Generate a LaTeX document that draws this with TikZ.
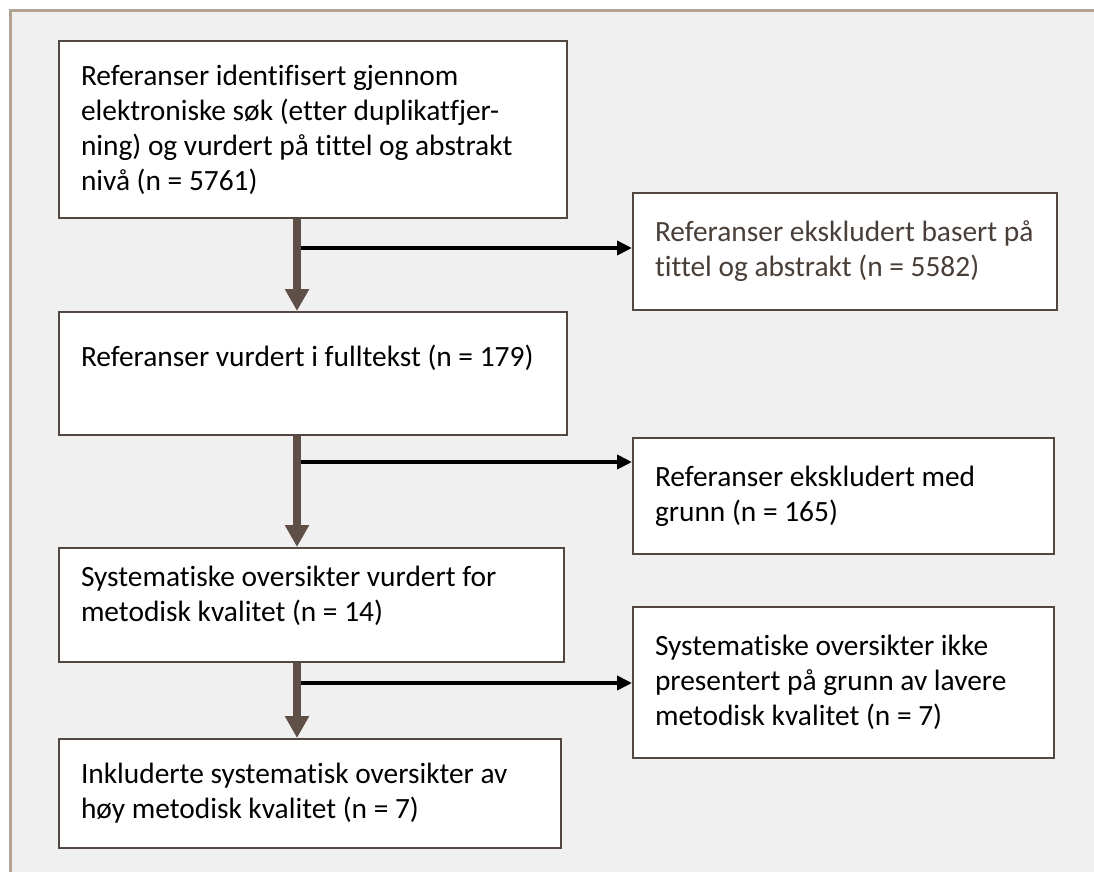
\documentclass[tikz,border=0pt]{standalone}
\usepackage{fontspec}
\setmainfont{Carlito}[Ligatures=NoCommon]
\usetikzlibrary{positioning, arrows.meta}

\definecolor{framebg}{HTML}{F0F0F0}
\definecolor{frameline}{HTML}{B3A395}
\definecolor{boxline}{HTML}{524741}
\definecolor{flowbrown}{HTML}{5E5046}
\definecolor{softtext}{HTML}{4A3F38}

\tikzset{
  box/.style={draw=boxline, line width=2pt, fill=white, anchor=north west,
    align=left, inner xsep=22pt, inner ysep=0pt,
    font=\fontsize{29.4}{35}\selectfont,
    execute at begin node={\spaceskip=0pt\xspaceskip=0pt}},
  mainflow/.style={draw=flowbrown, line width=8pt, -{Triangle[width=23pt,length=22pt]}},
  sideflow/.style={draw=black, line width=4pt, -{Triangle[width=14pt,length=15pt]}},
}

\begin{document}
\begin{tikzpicture}[x=1pt, y=-1pt]
    \useasboundingbox (0,0) rectangle (1094,872);
    % grey panel, only its top and left edges show
    \fill[white] (0,0) rectangle (1094,872);
    \fill[framebg] (10,11) rectangle (1094,872);
    \draw[frameline, line width=3pt] (10,872) -- (10,11) -- (1094,11);

    % main column
    \node[box, text width=464pt, minimum height=177pt] (b1) at (58,40)
        {Referanser identifisert gjennom\\elektroniske søk (etter duplikatfjer-\\ning) og vurdert på tittel og abstrakt\\nivå (n = 5761)};
    \node[box, text width=464pt, minimum height=123pt, below=92pt of b1.south west, anchor=north west] (b3)
        {Referanser vurdert i fulltekst (n = 179)\\\mbox{}};
    \node[box, text width=461pt, minimum height=114pt, below=111pt of b3.south west, anchor=north west] (b5)
        {Systematiske oversikter vurdert for\\metodisk kvalitet (n = 14)\\[-13pt]\mbox{}};
    \node[box, text width=458pt, minimum height=109pt, below=75pt of b5.south west, anchor=north west] (b7)
        {Inkluderte systematisk oversikter av\\høy metodisk kvalitet (n = 7)};

    % excluded column
    \node[box, text width=380pt, minimum height=117pt, text=softtext] (b2) at (632,192)
        {Referanser ekskludert basert på\\tittel og abstrakt (n = 5582)};
    \node[box, text width=377pt, minimum height=116pt] (b4) at (632,437)
        {Referanser ekskludert med\\grunn (n = 165)};
    \node[box, text width=377pt, minimum height=151pt] (b6) at (632,606)
        {Systematiske oversikter ikke\\presentert på grunn av lavere\\metodisk kvalitet (n = 7)};

    \coordinate (axis) at (297,0);
    \coordinate (j1) at (297,248);
    \coordinate (j2) at (297,462);
    \coordinate (j3) at (297,683);

    \draw[sideflow] (j1) -- (j1 -| b2.west);
    \draw[sideflow] (j2) -- (j2 -| b4.west);
    \draw[sideflow] (j3) -- (j3 -| b6.west);

    \draw[mainflow] (b1.south -| axis) -- (b3.north -| axis);
    \draw[mainflow] (b3.south -| axis) -- (b5.north -| axis);
    \draw[mainflow] (b5.south -| axis) -- (b7.north -| axis);
\end{tikzpicture}
\end{document}
